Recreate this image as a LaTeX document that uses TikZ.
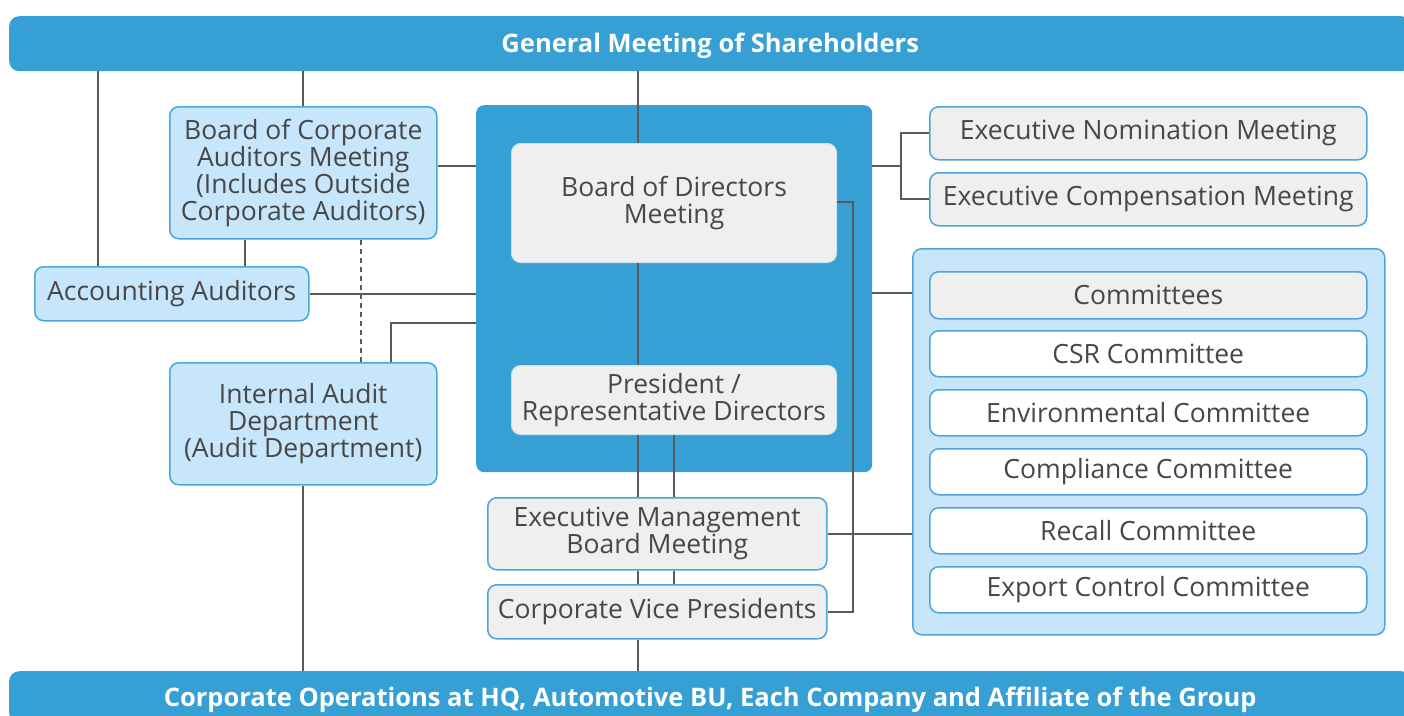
\documentclass[tikz,border=0pt]{standalone}
\usepackage{fontspec}
\setmainfont{Open Sans}
\definecolor{bar}{HTML}{369FD3}
\definecolor{lblue}{HTML}{C8E6FB}
\definecolor{bord}{HTML}{4BA6D9}
\definecolor{gfill}{HTML}{EFEFEF}
\definecolor{txt}{HTML}{474747}
\definecolor{lcol}{HTML}{5A5A5A}
\tikzset{
  base/.style={rounded corners=9pt, align=center, text=txt, inner sep=0pt, anchor=north west,
    font=\fontsize{26.5}{27}\selectfont},
  bluebox/.style={base, draw=bord, fill=lblue, line width=1.5pt},
  graybox/.style={base, draw=bord, fill=gfill, line width=1.5pt},
  whitebox/.style={base, draw=bord, fill=white, line width=1.5pt},
  innerbox/.style={base, draw=gfill!80!bar, fill=gfill, line width=1pt},
  barbox/.style={rounded corners=10pt, fill=bar, text=white, inner sep=0pt, anchor=north west,
    text height=18pt, text depth=0pt, font=\fontsize{25.5}{27}\selectfont\bfseries},
  conn/.style={draw=lcol, line width=2pt},
  dconn/.style={draw=lcol, line width=2pt, dash pattern=on 5pt off 4pt}
}
\begin{document}
\begin{tikzpicture}[x=1pt,y=-1pt]
\useasboundingbox (0,0) rectangle (1404,715);
\clip (0,0) rectangle (1404,715);
% bars
\node[barbox, minimum width=1402pt, minimum height=55pt] (gms) at (9,16) {General Meeting of Shareholders};
\node[barbox, minimum width=1402pt, minimum height=52pt] (bot) at (9,671) {Corporate Operations at HQ, Automotive BU, Each Company and Affiliate of the Group};
% board group
\node[base, fill=bar, rounded corners=8pt, minimum width=396pt, minimum height=367pt] (grp) at (476,105) {};
\node[innerbox, minimum width=325pt, minimum height=119pt] (bod) at (511,143) {Board of Directors\\Meeting};
\node[innerbox, minimum width=325pt, minimum height=69pt] (pres) at (511,365) {President /\\Representative Directors};
% left side
\node[bluebox, minimum width=267pt, minimum height=132pt] (bca) at (169,106) {Board of Corporate\\Auditors Meeting\\(Includes Outside\\Corporate Auditors)};
\node[bluebox, minimum width=274pt, minimum height=54pt] (acc) at (34,266) {Accounting Auditors};
\node[bluebox, minimum width=267pt, minimum height=122pt] (iad) at (169,362) {Internal Audit\\Department\\(Audit Department)};
% lower centre
\node[graybox, minimum width=339pt, minimum height=72pt] (emb) at (487,497) {Executive Management\\Board Meeting};
\node[graybox, minimum width=339pt, minimum height=54pt] (cvp) at (487,584) {Corporate Vice Presidents};
% right side
\node[graybox, minimum width=437pt, minimum height=53pt] (nom) at (929,106) {Executive Nomination Meeting};
\node[graybox, minimum width=437pt, minimum height=53pt] (comp) at (929,172) {Executive Compensation Meeting};
\node[bluebox, minimum width=472pt, minimum height=386pt] (cbox) at (912,248) {};
\node[graybox, minimum width=437pt, minimum height=47pt] (c0) at (929,271) {Committees};
\node[whitebox, minimum width=437pt, minimum height=46pt] (c1) at (929,330) {CSR Committee};
\node[whitebox, minimum width=437pt, minimum height=46pt] (c2) at (929,389) {Environmental Committee};
\node[whitebox, minimum width=437pt, minimum height=46pt] (c3) at (929,448) {Compliance Committee};
\node[whitebox, minimum width=437pt, minimum height=46pt] (c4) at (929,507) {Recall Committee};
\node[whitebox, minimum width=437pt, minimum height=46pt] (c5) at (929,566) {Export Control Committee};
% helper coordinates
\coordinate (h98) at (98,0);
\coordinate (h638) at (638,0);
\coordinate (h674) at (674,0);
\coordinate (h245) at (245,0);
\coordinate (h361) at (361,0);
\coordinate (h166) at (0,166);
\coordinate (h293) at (0,293);
\coordinate (h391) at (391,323);
\coordinate (h853) at (853,202);
\coordinate (h901) at (901,166);
% connectors
\draw[conn] (gms.south -| h98) -- (acc.north -| h98);
\draw[conn] (gms.south -| bca.north) -- (bca.north);
\draw[conn] (gms.south -| h638) -- (bod.north -| h638);
\draw[conn] (bca.east |- h166) -- (grp.west |- h166);
\draw[conn] (bca.south -| h245) -- (acc.north -| h245);
\draw[dconn] (bca.south -| h361) -- (iad.north -| h361);
\draw[conn] (acc.east) -- (acc.east -| grp.west);
\draw[conn] (iad.north -| h391) |- (grp.west |- h391);
\draw[conn] (iad.south) -- (iad.south |- bot.north);
\draw[conn] (bod.south -| h638) -- (pres.north -| h638);
\draw[conn] (pres.south -| h638) -- (emb.north -| h638);
\draw[conn] (pres.south -| h674) -- (emb.north -| h674);
\draw[conn] (emb.south -| h638) -- (cvp.north -| h638);
\draw[conn] (emb.south -| h674) -- (cvp.north -| h674);
\draw[conn] (cvp.south -| h638) -- (bot.north -| h638);
\draw[conn] (bod.east |- h853) -- (h853) |- (cvp.east);
\draw[conn] (grp.east |- h901) -- (h901);
\draw[conn] (nom.west) -| (h901) |- (comp.west);
\draw[conn] (grp.east |- h293) -- (cbox.west |- h293);
\draw[conn] (emb.east) -- (emb.east -| cbox.west);
\end{tikzpicture}
\end{document}
